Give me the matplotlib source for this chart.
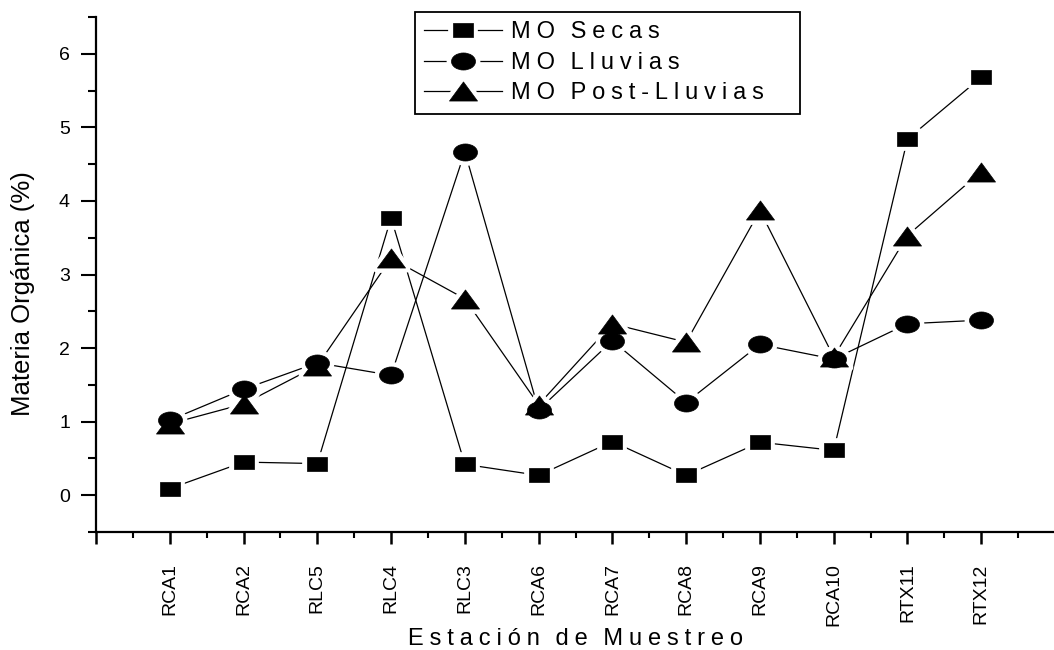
#---------------------------------------------------------------------------------------------------
# Imports
#---------------------------------------------------------------------------------------------------

import numpy as np
import matplotlib as mpl
mpl.use('Agg')
import matplotlib.pyplot as plt
from matplotlib.ticker import MultipleLocator, FixedLocator
from matplotlib.path import Path
from matplotlib.markers import MarkerStyle

#---------------------------------------------------------------------------------------------------
# Global Parameters
#---------------------------------------------------------------------------------------------------

mpl.rcParams['font.family'] = ['Liberation Sans', 'DejaVu Sans']

#---------------------------------------------------------------------------------------------------
# Data
#---------------------------------------------------------------------------------------------------

estaciones = ['RCA1', 'RCA2', 'RLC5', 'RLC4', 'RLC3', 'RCA6',
              'RCA7', 'RCA8', 'RCA9', 'RCA10', 'RTX11', 'RTX12']

mo_secas = [0.09, 0.45, 0.43, 3.77, 0.42, 0.27, 0.73, 0.27, 0.72, 0.61, 4.84, 5.68]
mo_lluvias = [1.02, 1.44, 1.80, 1.63, 4.67, 1.16, 2.10, 1.26, 2.05, 1.85, 2.33, 2.38]
mo_post = [0.97, 1.24, 1.76, 3.22, 2.67, 1.23, 2.33, 2.08, 3.87, 1.88, 3.53, 4.40]

etiquetas = ['MO Secas', 'MO Lluvias', 'MO Post-Lluvias']
eje_x = 'Estación de Muestreo'
eje_y = 'Materia Orgánica (%)'

#---------------------------------------------------------------------------------------------------
# Helpers
#---------------------------------------------------------------------------------------------------

# Spread out letters: quarter-em space between letters, ~2/3 em between words
def spaced(txt):
    words = txt.split(' ')
    return '\u2005\u2005\u2006'.join('\u2005'.join(w) for w in words)

# Flattened marker shapes (wider than tall)
def flat_square(r = 0.71):
    verts = [(-1, -r), (1, -r), (1, r), (-1, r), (-1, -r)]
    codes = [Path.MOVETO, Path.LINETO, Path.LINETO, Path.LINETO, Path.CLOSEPOLY]
    return Path(verts, codes)

def flat_circle(r = 0.71):
    c = Path.unit_circle()
    return Path(c.vertices * np.array([1.0, r]), c.codes)

def flat_triangle(r = 0.68):
    verts = [(0, r), (-1, -r), (1, -r), (0, r)]
    codes = [Path.MOVETO, Path.LINETO, Path.LINETO, Path.CLOSEPOLY]
    return Path(verts, codes)

# Draws one series: thin line, white halo around each marker (gap in the line),
# black marker on top. Halos sit below every marker so only lines are cut.
# Returns: tuple of handles for the legend
def plot_series(ax, x, y, path, size):
    line, = ax.plot(x, y, color='black', lw=0.9, zorder=2)
    halo, = ax.plot(x, y, ls='none', marker=MarkerStyle(path, joinstyle='round'),
                    ms=size, mfc='white', mec='white', mew=7, zorder=3)
    mark, = ax.plot(x, y, ls='none', marker=path, ms=size, mfc='black', mec='black',
                    mew=0.5, zorder=4)
    return (line, halo, mark)

#---------------------------------------------------------------------------------------------------
# Plot
#---------------------------------------------------------------------------------------------------

def main():
    x = np.arange(1, len(estaciones) + 1)

    fig = plt.figure(figsize=(10.54, 6.5), dpi=100)
    ax = fig.add_axes([96 / 1054, 1 - 532 / 650, 959 / 1054, 515 / 650])

    h1 = plot_series(ax, x, mo_secas, flat_square(), 15.1)
    h2 = plot_series(ax, x, mo_lluvias, flat_circle(), 17.3)
    h3 = plot_series(ax, x, mo_post, flat_triangle(), 20.2)

    ax.set_xlim(0, 13)
    ax.set_ylim(-0.5, 6.5)

    ax.xaxis.set_major_locator(FixedLocator(range(0, 14)))
    ax.set_xticklabels([''] + estaciones + [''], rotation=90)
    ax.xaxis.set_minor_locator(MultipleLocator(0.5))
    ax.yaxis.set_major_locator(MultipleLocator(1))
    ax.yaxis.set_minor_locator(MultipleLocator(0.5))
    ax.set_yticks(range(0, 7))

    for s in ['top', 'right']:
        ax.spines[s].set_visible(False)
    for s in ['left', 'bottom']:
        ax.spines[s].set_linewidth(1.6)

    ax.tick_params(axis='y', which='major', direction='out', length=10.8, width=1.5,
                   labelsize=14, pad=8)
    ax.tick_params(axis='y', which='minor', direction='out', length=5.8, width=1.5)
    ax.tick_params(axis='x', which='major', direction='out', length=8.6, width=1.8,
                   labelsize=14, pad=14)
    ax.tick_params(axis='x', which='minor', direction='out', length=4.3, width=1.5)

    ax.set_ylabel(eje_y, fontsize=18.5)
    ax.yaxis.set_label_coords((35 - 96) / 959, (532 - 294) / 515)
    ax.set_xlabel(spaced(eje_x), fontsize=17)
    ax.xaxis.set_label_coords(0.5, (532 - 628) / 515)

    # Legend box spans 415..800 px horizontally, top edge at 12 px
    leg = ax.legend([h1, h2, h3], [spaced(t) for t in etiquetas], loc='upper left',
                    bbox_to_anchor=((415 - 96) / 959, (532 - 12) / 515, (800 - 415) / 959, 0),
                    mode='expand', borderaxespad=0, fontsize=17, frameon=True,
                    fancybox=False, handlelength=3.3, handletextpad=0.35,
                    labelspacing=0.36, borderpad=0.4)
    leg.get_frame().set_edgecolor('black')
    leg.get_frame().set_linewidth(1.3)
    leg.get_frame().set_alpha(1)

    fig.savefig('out.png', dpi=100)
    plt.close(fig)

    return


if __name__ == '__main__':
    main()
